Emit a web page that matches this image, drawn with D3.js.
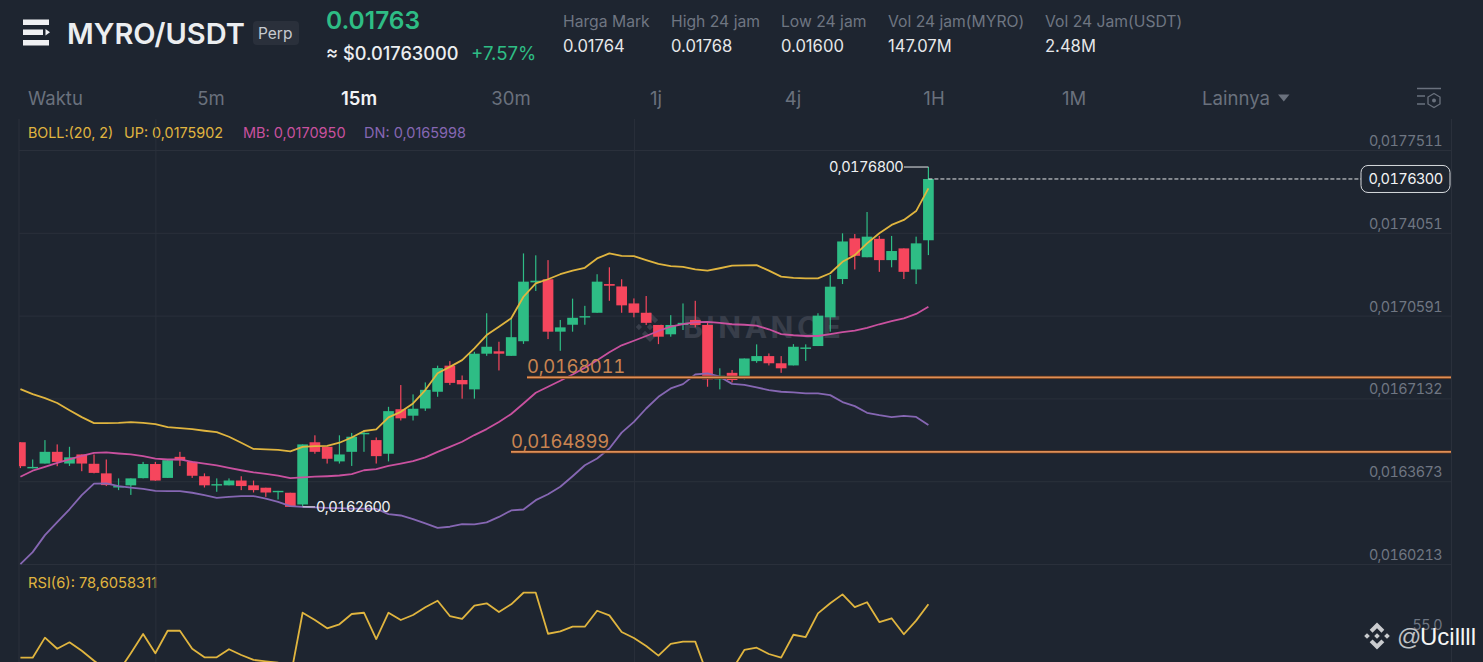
<!DOCTYPE html>
<html>
<head>
<meta charset="utf-8">
<script src="https://cdn.jsdelivr.net/npm/d3@7"></script>
<style>
  html, body { margin: 0; background: #1e2530; overflow: hidden; }
  svg { display: block; font-family: Inter, "Noto Sans", sans-serif; }
  .tab { font-variant-numeric: tabular-nums; letter-spacing: -0.6px; }
</style>
</head>
<body>
<svg id="chart" width="1483" height="662"></svg>
<script>
// all prices are in millionths of USDT (17630 = 0.01763)
const opens = [16530,16421,16441,16490,16441,16479,16440,16400,16341,16350,
  16380,16439,16381,16469,16448,16388,16350,16350,16370,16350,
  16340,16323,16319,16270,16530,16511,16450,16490,16564,16539,
  16482,16668,16641,16671,16741,16850,16790,16751,16900,16910,
  16891,16952,17198,17211,16992,17021,17052,17071,17191,17181,
  17110,17071,17020,16981,17020,17041,17020,16793,16820,16804,
  16869,16890,16860,16851,16920,16932,17052,17212,17382,17303,
  17380,17291,17340,17252,17374];
const closes = [16430,16427,16490,16448,16467,16441,16402,16351,16347,16379,
  16439,16370,16455,16455,16390,16350,16355,16370,16347,16330,
  16320,16327,16260,16521,16490,16461,16479,16553,16569,16472,
  16660,16630,16670,16749,16840,16778,16772,16900,16929,16900,
  16969,17201,17205,16992,17010,17050,17057,17201,17184,17102,
  17071,17029,16971,17020,17029,17020,16793,16808,16790,16880,
  16890,16860,16839,16929,16926,17059,17180,17369,17309,17389,
  17291,17329,17242,17361,17630];
const highs = [16530,16458,16539,16521,16511,16479,16479,16458,16379,16379,
  16448,16448,16460,16490,16451,16400,16379,16379,16388,16370,
  16340,16327,16319,16521,16559,16511,16559,16569,16581,16550,
  16678,16769,16730,16780,16850,16869,16809,16908,17069,16950,
  17048,17319,17311,17291,17041,17130,17100,17232,17261,17211,
  17131,17141,17020,17061,17110,17121,17028,16839,16832,16880,
  16939,16901,16890,16940,16939,17069,17229,17403,17400,17492,
  17392,17392,17340,17389,17680];
const lows = [16422,16421,16441,16430,16431,16409,16400,16347,16330,16310,
  16379,16369,16381,16431,16381,16341,16323,16350,16330,16320,
  16302,16291,16260,16264,16482,16441,16441,16431,16490,16441,
  16450,16621,16621,16661,16720,16769,16712,16712,16891,16830,
  16891,16941,17162,16961,16912,16992,17021,17071,17121,17071,
  17052,17020,16940,16971,16999,17010,16762,16751,16780,16793,
  16862,16851,16820,16851,16870,16932,16992,17191,17252,17303,
  17242,17261,17212,17191,17312];

const bollUp = [16752,16731,16714,16694,16664,16635,16610,16610,16611,16614,
  16611,16606,16593,16589,16585,16578,16572,16553,16528,16502,
  16500,16498,16492,16511,16514,16515,16528,16550,16577,16584,
  16634,16657,16692,16748,16818,16845,16873,16922,16978,17013,
  17048,17138,17194,17211,17232,17247,17259,17298,17319,17309,
  17308,17291,17275,17266,17263,17252,17247,17257,17268,17269,
  17270,17247,17222,17217,17215,17215,17236,17284,17312,17361,
  17403,17438,17459,17496,17591];
const bollMid = [16386,16411,16427,16444,16458,16473,16486,16488,16483,16479,
  16472,16462,16458,16458,16448,16441,16433,16423,16413,16404,
  16398,16391,16380,16383,16386,16388,16391,16397,16413,16418,
  16431,16441,16451,16467,16490,16511,16532,16560,16585,16615,
  16648,16692,16737,16762,16787,16813,16841,16873,16906,16935,
  16954,16974,16995,17013,17024,17032,17033,17029,17023,17021,
  17017,17002,16982,16977,16974,16974,16982,16990,16996,17008,
  17023,17036,17048,17066,17096];
const bollDn = [16021,16071,16142,16196,16250,16309,16357,16358,16347,16340,
  16335,16327,16326,16326,16319,16309,16298,16302,16305,16305,
  16294,16281,16263,16260,16258,16256,16255,16253,16253,16252,
  16230,16224,16209,16191,16172,16177,16188,16187,16195,16218,
  16245,16249,16288,16313,16344,16388,16434,16462,16504,16570,
  16615,16671,16720,16755,16773,16813,16818,16804,16774,16770,
  16759,16748,16741,16738,16734,16734,16727,16698,16681,16653,
  16643,16635,16640,16636,16602];
const rsi = [36.2,36.2,52.1,43.3,48.4,41.7,33.8,26.4,25.1,39.7,
  55,39.7,57.6,57.6,43.3,36.5,36.5,42.9,38.3,34.4,
  33.3,32.2,20.1,71.9,66.1,59.5,62.7,70.9,71.9,51,
  71.9,66.1,70.1,76.2,81.4,69.3,67.1,77.5,79.4,72.5,
  78.6,87.8,87.8,55.2,57.1,60.8,60.8,73.5,69.8,56.6,
  51.8,45.5,37.8,47.1,48.9,48.9,22.4,22.4,26.4,42.3,
  44.1,39.1,36.2,54.4,52.6,71.4,79.4,86.5,76.4,80.2,
  64.5,67.5,54.8,65.6,78.6];

const priceTicks = [17751.1,17405.1,17059.1,16713.2,16367.3,16021.3];
const rsiTicks = [55];
const timeTicks = [11,50];
const levels = [16801.1,16489.9];
const levelStarts = [527,511];
const highPrice = 17680, lowPrice = 16260, lastPrice = 17630;

const periods = ["Waktu","5m","15m","30m","1j","4j","1H","1M"];
const periodX = [28,211,359,511,656,793,934,1074];
const statLabels = ["Harga Mark","High 24 jam","Low 24 jam","Vol 24 jam(MYRO)","Vol 24 Jam(USDT)"];
const statValues = ["0.01764","0.01768","0.01600","147.07M","2.48M"];
const statX = [563,671,781,888,1045];

const BG = "#1e2530", GRID = "#2a303b", GREEN = "#2ebd85", RED = "#f6465d";
const YELLOW = "#e0b53f", PINK = "#c9519f", PURPLE = "#8667b3", ORANGE = "#df8f56";

const fmt = v => (v / 1e6).toFixed(7).replace(".", ",");

const svg = d3.select("#chart");
const x = d3.scaleLinear().domain([0, 74]).range([20.4, 928.4]);
const y = d3.scaleLinear().domain([16021.3, 17751.1]).range([564, 150]);
const yRsi = d3.scaleLinear().domain([55, 78.6]).range([634, 604.3]);
const candleW = 10.7;

svg.append("defs").append("clipPath").attr("id", "plot")
  .append("rect").attr("x", 19).attr("y", 119).attr("width", 1432).attr("height", 543);

function label(parent, tx, ty, str, size, fill, weight) {
  return parent.append("text").attr("x", tx).attr("y", ty).attr("font-size", size)
    .attr("fill", fill).attr("font-weight", weight || 400).text(str);
}

// binance diamond, r is half the width
function diamond(parent, cx, cy, r, fill) {
  const g = parent.append("g").attr("transform", `translate(${cx},${cy}) scale(${r / 10})`).attr("fill", fill);
  [[0, 0], [-7.4, 0], [7.4, 0]].forEach(c => {
    g.append("path").attr("d", `M${c[0]},${c[1] - 2.1}l2.1,2.1l-2.1,2.1l-2.1,-2.1z`);
  });
  g.append("path").attr("d", "M0,-10L5.4,-4.6L3.3,-2.5L0,-5.8L-3.3,-2.5L-5.4,-4.6z");
  g.append("path").attr("d", "M0,10L5.4,4.6L3.3,2.5L0,5.8L-3.3,2.5L-5.4,4.6z");
}

// header
const head = svg.append("g");
head.append("g").attr("fill", "#f0f1f3").selectAll("rect")
  .data([[23, 19.5, 26], [23, 29.5, 20], [23, 40, 26]]).join("rect")
  .attr("x", d => d[0]).attr("y", d => d[1]).attr("width", d => d[2]).attr("height", 5.5);
head.append("path").attr("d", "M45.5,29L50,32.2L45.5,35.5z").attr("fill", "#f0f1f3");
label(head, 67, 44, "MYRO/USDT", 29, "#eceef0", 600);
head.append("rect").attr("x", 253).attr("y", 21).attr("width", 46).attr("height", 24).attr("rx", 4).attr("fill", "#2a303b");
label(head, 258, 38.5, "Perp", 15.5, "#c6cad0");
label(head, 326, 28.5, "0.01763", 24.5, GREEN, 600);
label(head, 326, 60, "≈ $0.01763000", 18.2, "#eceef0", 500);
label(head, 471, 60, "+7.57%", 18.6, GREEN);
statLabels.forEach((s, i) => {
  label(head, statX[i], 27, s, 15.7, "#6f7682");
  label(head, statX[i], 52, statValues[i], 16.6, "#e6e8ea");
});

// period tabs
periods.forEach((p, i) => {
  const active = p === "15m";
  label(head, periodX[i], 105, p, 18.5, active ? "#f2f3f5" : "#6a717d", active ? 600 : 400)
    .attr("text-anchor", i === 0 ? "start" : "middle");
});
label(head, 1202, 105, "Lainnya", 18.6, "#6a717d");
head.append("path").attr("d", "M1278,94.5h11.5l-5.7,7z").attr("fill", "#6a717d");
const gear = head.append("g").attr("fill", "none").attr("stroke", "#6a717d").attr("stroke-width", 1.3);
gear.append("path").attr("d", "M1417,88.5H1441M1417,96H1425M1417,104H1425");
gear.append("path").attr("d", "M1434,93.5l6,3.5v7l-6,3.5l-6,-3.5v-7z");
head.append("circle").attr("cx", 1434).attr("cy", 100.5).attr("r", 2).attr("fill", "#6a717d");

// legend
label(svg, 28, 138, "BOLL:(20, 2)", 14.3, YELLOW);
label(svg, 124, 138, "UP: 0,0175902", 14.4, YELLOW);
label(svg, 243, 138, "MB: 0,0170950", 14.5, PINK);
label(svg, 364, 138, "DN: 0,0165998", 14.5, PURPLE);
label(svg, 28, 588, "RSI(6): 78,6058311", 14.7, YELLOW);

// grid + axes
const timeAxis = d3.axisBottom(x).tickValues(timeTicks).tickSize(-543).tickFormat("");
const gt = svg.append("g").attr("transform", "translate(0,662)").call(timeAxis);
gt.select(".domain").remove();
gt.selectAll("line").attr("stroke", GRID);

svg.append("g").attr("stroke", GRID).selectAll("line").data([19, 1451.5]).join("line")
  .attr("x1", d => d).attr("x2", d => d).attr("y1", 119).attr("y2", 662);

const priceAxis = d3.axisLeft(y).tickValues(priceTicks).tickSize(1432).tickFormat(fmt);
const gy = svg.append("g").attr("transform", "translate(1451,0)").call(priceAxis);
gy.select(".domain").remove();
gy.selectAll("line").attr("stroke", GRID);
gy.selectAll("text").attr("class", "tab").attr("x", -9).attr("dy", -4.5).attr("fill", "#6f7682")
  .attr("font-size", 14.4).attr("font-family", "Inter, sans-serif");

const rsiAxis = d3.axisLeft(yRsi).tickValues(rsiTicks).tickSize(0).tickFormat(d3.format(".1f"));
const gr = svg.append("g").attr("transform", "translate(1451,0)").call(rsiAxis);
gr.select(".domain").remove();
gr.selectAll("text").attr("class", "tab").attr("x", -9).attr("dy", -5).attr("fill", "#6f7682")
  .attr("font-size", 14.4).attr("font-family", "Inter, sans-serif");

// watermark
const wm = svg.append("g");
diamond(wm, 650, 327, 15, "#383e4a");
label(wm, 683, 338, "BINANCE", 30, "#383e4a", 700).attr("letter-spacing", 3.5);

const plot = svg.append("g").attr("clip-path", "url(#plot)");

// candles
const candles = plot.append("g").selectAll("g").data(d3.range(opens.length)).join("g")
  .attr("fill", i => closes[i] >= opens[i] ? GREEN : RED);
candles.append("rect")
  .attr("x", i => x(i) - 0.6).attr("width", 1.2)
  .attr("y", i => y(highs[i])).attr("height", i => y(lows[i]) - y(highs[i]));
candles.append("rect")
  .attr("x", i => x(i) - candleW / 2).attr("width", candleW)
  .attr("y", i => y(Math.max(opens[i], closes[i])))
  .attr("height", i => Math.max(1.4, Math.abs(y(opens[i]) - y(closes[i]))));

// bollinger + rsi lines
const priceLine = d3.line().x((d, i) => x(i)).y(d => y(d));
[[bollDn, PURPLE], [bollMid, PINK], [bollUp, YELLOW]].forEach(s => {
  plot.append("path").datum(s[0]).attr("d", priceLine)
    .attr("fill", "none").attr("stroke", s[1]).attr("stroke-width", 1.8).attr("stroke-linejoin", "round");
});
plot.append("path").datum(rsi)
  .attr("d", d3.line().x((d, i) => x(i)).y(d => yRsi(d)))
  .attr("fill", "none").attr("stroke", YELLOW).attr("stroke-width", 1.8).attr("stroke-linejoin", "round");

// horizontal levels
levels.forEach((v, i) => {
  svg.append("line").attr("x1", levelStarts[i]).attr("x2", 1451).attr("y1", y(v)).attr("y2", y(v))
    .attr("stroke", "#5a3018").attr("stroke-width", 3.4);
  svg.append("line").attr("x1", levelStarts[i]).attr("x2", 1451).attr("y1", y(v)).attr("y2", y(v))
    .attr("stroke", ORANGE).attr("stroke-width", 1.7);
  label(svg, levelStarts[i], y(v) - 4, fmt(v), 18.5, "#c98450").attr("class", "tab").style("letter-spacing", "-0.35px");
});

// high / low callouts
svg.append("line").attr("x1", 904).attr("x2", x(74)).attr("y1", y(highPrice)).attr("y2", y(highPrice)).attr("stroke", "#e6e8ea");
label(svg, 829, y(highPrice) + 5, fmt(highPrice), 14.6, "#eef0f2").attr("class", "tab");
svg.append("line").attr("x1", x(23)).attr("x2", 315).attr("y1", y(lowPrice)).attr("y2", y(lowPrice)).attr("stroke", "#e6e8ea");
label(svg, 316, y(lowPrice) + 5, fmt(lowPrice), 14.6, "#eef0f2").attr("class", "tab");

// last price
svg.append("line").attr("x1", x(74)).attr("x2", 1361).attr("y1", y(lastPrice)).attr("y2", y(lastPrice))
  .attr("stroke", "#e6e8ea").attr("stroke-dasharray", "4 2");
svg.append("rect").attr("x", 1361).attr("y", y(lastPrice) - 13.5).attr("width", 89).attr("height", 27).attr("rx", 7)
  .attr("fill", BG).attr("stroke", "#d6d9dd");
label(svg, 1405.5, y(lastPrice) + 5.5, fmt(lastPrice), 14.6, "#f2f3f5").attr("class", "tab").attr("text-anchor", "middle");

// repost tag
diamond(svg, 1377, 636, 13.5, "#c9cbce");
label(svg, 1397, 645, "@", 24, "#bfc1c4").attr("font-family", "'Liberation Sans', sans-serif");
label(svg, 1420, 645, "Ucillll", 24, "#f5f5f5").attr("font-family", "'Liberation Sans', sans-serif");
</script>
</body>
</html>
